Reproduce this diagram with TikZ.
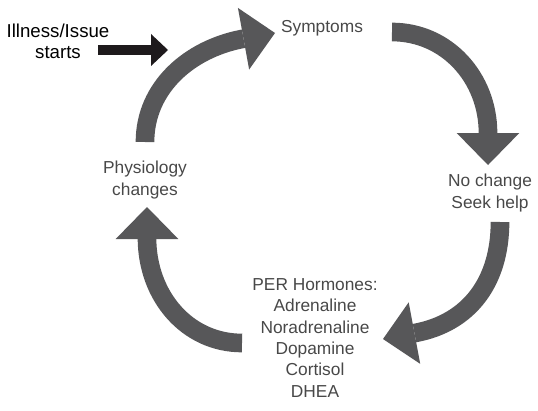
\documentclass[tikz,border=0pt]{standalone}
\usepackage{fontspec}
\setmainfont{Liberation Sans}
\usetikzlibrary{arrows.meta}
\definecolor{arrowgray}{RGB}{87,87,89}
\definecolor{textgray}{RGB}{72,72,72}
\definecolor{startblack}{RGB}{30,26,28}

\begin{document}
\begin{tikzpicture}[x=0.75pt,y=-0.75pt,
    cyctext/.style={align=center, text=textgray, font=\fontsize{13}{16}\selectfont, inner sep=0pt},
    cyclearrow/.style={line width=14pt, draw=arrowgray, -{Triangle[width=47pt,length=24pt,line width=0pt]}},
    startarrow/.style={line width=7.5pt, draw=startblack, -{Triangle[width=24pt,length=12.75pt,line width=0pt]}}]
        \useasboundingbox (0,0) rectangle (538,410);

        % Stages of the cycle
        \node[cyctext] (symp) at (322,28) {Symptoms};
        \node[cyctext] (noch) at (490,193) {No change\\Seek help};
        \node[cyctext] (per) at (315,338) {PER Hormones:\\Adrenaline\\Noradrenaline\\Dopamine\\Cortisol\\DHEA};
        \node[cyctext] (phys) at (145,180) {Physiology\\changes};
        \node[align=center, inner sep=0pt, font=\fontsize{14}{16}\selectfont, text=black] (ill) at (58,41) {Illness/Issue\\starts};

        % Arrow ends
        \coordinate (a1s) at (145,142);
        \coordinate (a1e) at (275,33);
        \coordinate (a2s) at (392,32);
        \coordinate (a2e) at (488,165);
        \coordinate (a3s) at (500,222);
        \coordinate (a3e) at (383,339);
        \coordinate (a4s) at (242,343);
        \coordinate (a4e) at (147,207);
        \coordinate (in0) at (98,50);
        \coordinate (in1) at (168,50);

        \draw[cyclearrow] (a1s) .. controls (145,87) and (190,49) .. (242,39) -- (a1e);
        \draw[cyclearrow] (a2s) .. controls (447,32) and (488,78) .. (488,133) -- (a2e);
        \draw[cyclearrow] (a3s) .. controls (500,282) and (469,323) .. (415,333) -- (a3e);
        \draw[cyclearrow] (a4s) .. controls (187,343) and (147,296) .. (147,238) -- (a4e);

        \draw[startarrow] (in0) -- (in1);
    \end{tikzpicture}
\end{document}
